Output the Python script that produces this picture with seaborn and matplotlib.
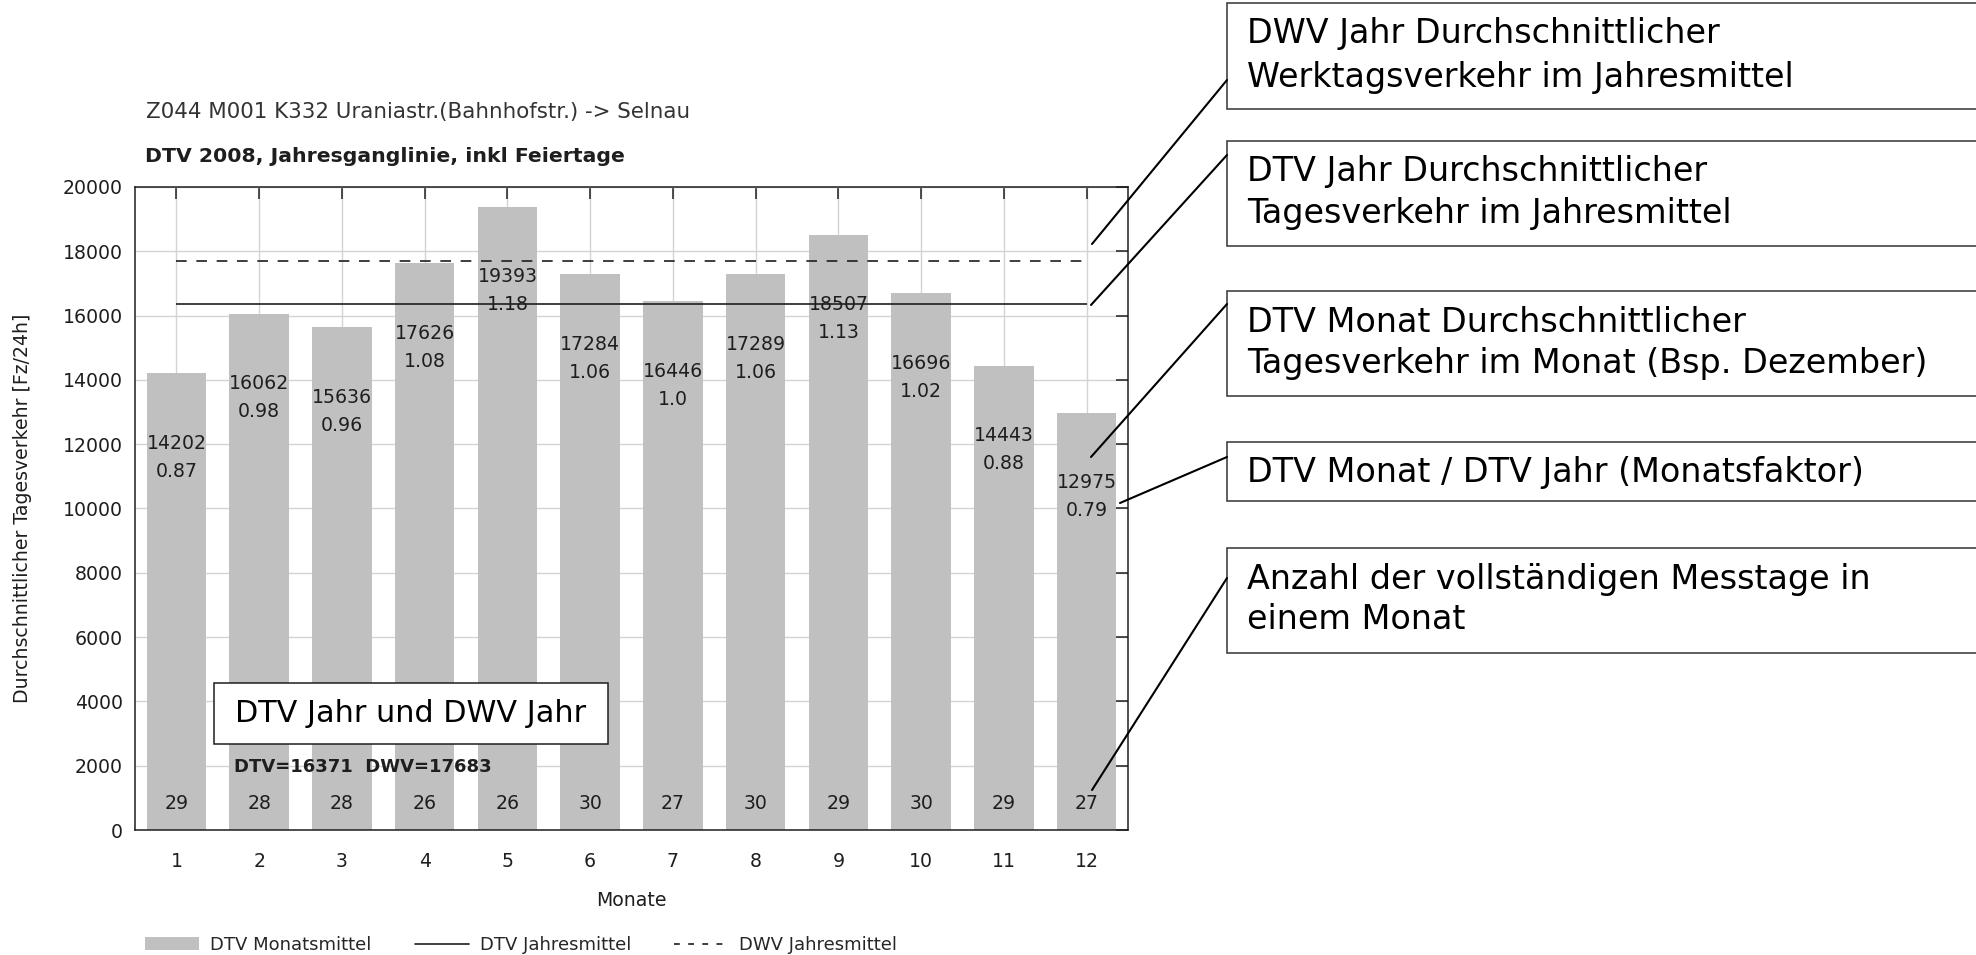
import pandas as pd
import matplotlib.pyplot as plt
import seaborn as sns
from matplotlib.patches import Rectangle, Patch
from matplotlib.lines import Line2D

# ===== DATA =====
months = [1, 2, 3, 4, 5, 6, 7, 8, 9, 10, 11, 12]
dtv_month = [14202, 16062, 15636, 17626, 19393, 17284, 16446, 17289, 18507, 16696, 14443, 12975]
month_factor = ["0.87", "0.98", "0.96", "1.08", "1.18", "1.06", "1.0", "1.06", "1.13", "1.02", "0.88", "0.79"]
measure_days = [29, 28, 28, 26, 26, 30, 27, 30, 29, 30, 29, 27]
dtv_year = 16371
dwv_year = 17683

title_top = "Z044 M001 K332 Uraniastr.(Bahnhofstr.) -> Selnau"
title_main = "DTV 2008, Jahresganglinie, inkl Feiertage"
y_label = "Durchschnittlicher Tagesverkehr [Fz/24h]"
x_label = "Monate"
legend_labels = ["DTV Monatsmittel", "DTV Jahresmittel", "DWV Jahresmittel"]
inner_box_text = "DTV Jahr und DWV Jahr"

box_texts = [
    ["DWV Jahr Durchschnittlicher", "Werktagsverkehr im Jahresmittel"],
    ["DTV Jahr Durchschnittlicher", "Tagesverkehr im Jahresmittel"],
    ["DTV Monat Durchschnittlicher", "Tagesverkehr im Monat (Bsp. Dezember)"],
    ["DTV Monat / DTV Jahr (Monatsfaktor)"],
    ["Anzahl der vollständigen Messtage in", "einem Monat"],
]

# ===== LAYOUT (pixels, top-left origin) =====
W, H = 1976, 955
box_rows = [(3, 109), (141, 246), (291, 396), (442, 501), (548, 653)]
box_line_y = [[33, 78], [172, 213], [322, 363], [472], [580, 619]]
leaders = [(1227, 80, 1092, 244), (1227, 155, 1091, 305), (1227, 304, 1091, 457),
           (1227, 457, 1120, 503), (1227, 578, 1092, 790)]


def fx(px):
    return px / W


def fy(py):
    return 1 - py / H


sns.set_theme(style="white")
plt.rcParams['font.family'] = ['DejaVu Sans']

BAR = "#c0c0c0"
INK = "#1e1e1e"
SMALL = 13.6

fig = plt.figure(figsize=(W / 100, H / 100), dpi=100)
ax = fig.add_axes([fx(135), fy(830), 993 / W, 643 / H])

df = pd.DataFrame({"Monat": months, "DTV": dtv_month})
sns.barplot(data=df, x="Monat", y="DTV", native_scale=True, width=0.72,
            color=BAR, saturation=1, linewidth=0, ax=ax, zorder=2)

# year means
ax.hlines(dtv_year, months[0], months[-1], color=INK, lw=1.2, zorder=3)
ax.hlines(dwv_year, months[0], months[-1], color=INK, lw=1.2,
          linestyles=(0, (6.4, 5.8)), zorder=3)

# labels on bars
for m, v, f, d in zip(months, dtv_month, month_factor, measure_days):
    ax.annotate(str(v), (m, v), xytext=(0, -70 * 0.72), textcoords='offset points',
                ha='center', va='center', fontsize=SMALL, color=INK, zorder=4)
    ax.annotate(f, (m, v), xytext=(0, -98 * 0.72), textcoords='offset points',
                ha='center', va='center', fontsize=SMALL, color=INK, zorder=4)
    ax.annotate(str(d), (m, 0), xytext=(0, 27 * 0.72), textcoords='offset points',
                ha='center', va='center', fontsize=SMALL, color=INK, zorder=4)

ax.set_xlim(0.5, 12.5)
ax.set_ylim(0, 20000)
ax.set_xticks(months)
ax.set_xticklabels([str(m) for m in months])
ax.set_yticks(range(0, 20001, 2000))
ax.grid(True, color="#d4d4d4", lw=1.0)
ax.set_axisbelow(True)
ax.tick_params(direction='in', length=8.6, width=1.1, color=INK,
               top=True, right=True, labelsize=SMALL, labelcolor=INK)
ax.tick_params(axis='x', pad=15.5)
ax.tick_params(axis='y', pad=8.6)
for s in ax.spines.values():
    s.set_linewidth(1.1)
    s.set_color(INK)

ax.set_xlabel(x_label, fontsize=SMALL, color=INK)
ax.set_ylabel(y_label, fontsize=SMALL, color=INK)
ax.xaxis.set_label_coords(0.5, (830 - 900) / 643)
ax.xaxis.label.set_va('center')
ax.yaxis.set_label_coords((23 - 135) / 993, 0.5)
ax.yaxis.label.set_va('center')

# titles
fig.text(fx(146), fy(112), title_top, fontsize=15.4, color="#333333", va='center')
fig.text(fx(145), fy(157), title_main, fontsize=14.7, fontweight='bold', color=INK, va='center')

# legend
handles = [
    Patch(facecolor=BAR, edgecolor='none'),
    Line2D([], [], color=INK, lw=1.2),
    Line2D([], [], color=INK, lw=1.2, linestyle=(0, (3.5, 5))),
]
fig.legend(handles, legend_labels, loc='center left', bbox_to_anchor=(fx(145), fy(945)),
           ncol=3, frameon=False, fontsize=13, handlelength=3.0, handletextpad=0.6,
           columnspacing=2.4, borderpad=0, borderaxespad=0)

# inner overlay box
fig.add_artist(Rectangle((fx(214), fy(743.5)), 394 / W, 60.5 / H, transform=fig.transFigure,
                         facecolor='white', edgecolor=INK, lw=1.1, zorder=5))
fig.text(fx(411), fy(713), inner_box_text, fontsize=21.8, ha='center', va='center',
         color='black', zorder=6)
fig.text(fx(234), fy(767), f"DTV={dtv_year}  DWV={dwv_year}", fontsize=13,
         fontweight='bold', color=INK, va='center', zorder=6)

# explanation boxes on the right
for (top, bottom), lines_y, lines in zip(box_rows, box_line_y, box_texts):
    fig.add_artist(Rectangle((fx(1227), fy(bottom)), 770 / W, (bottom - top) / H,
                             transform=fig.transFigure, facecolor='white',
                             edgecolor="#333333", lw=1.1, zorder=5))
    for ly, txt in zip(lines_y, lines):
        fig.text(fx(1247), fy(ly), txt, fontsize=24, color='black', va='center', zorder=6)

for x0, y0, x1, y1 in leaders:
    fig.add_artist(Line2D([fx(x0), fx(x1)], [fy(y0), fy(y1)], transform=fig.transFigure,
                          color='black', lw=1.5, zorder=6))

fig.savefig("out.png", dpi=100)
